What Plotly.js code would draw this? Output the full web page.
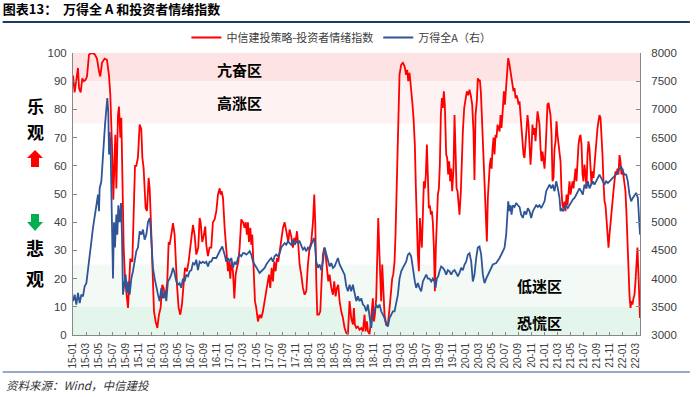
<!DOCTYPE html>
<html>
<head>
<meta charset="utf-8">
<script src="https://cdn.plot.ly/plotly-3.0.1.min.js"></script>
<style>html,body{margin:0;padding:0;background:#fff;}#chart{width:700px;height:397px;}</style>
</head>
<body>
<div id="chart"></div>
<script>
// x positions: months elapsed since 2015-01
const tickLabels = ["15-01","15-03","15-05","15-07","15-09","15-11","16-01","16-03","16-05","16-07","16-09","16-11",
  "17-01","17-03","17-05","17-07","17-09","17-11","18-01","18-03","18-05","18-07","18-09","18-11",
  "19-01","19-03","19-05","19-07","19-09","19-11","20-01","20-03","20-05","20-07","20-09","20-11",
  "21-01","21-03","21-05","21-07","21-09","21-11","22-01","22-03"];

const seriesNames = ["中信建投策略-投资者情绪指数", "万得全A（右）"];

const redMonth = [
0,0.25,0.51,0.76,0.92,1.17,1.42,1.68,1.93,2.14,
2.44,2.80,3.31,3.66,3.97,4.17,4.43,4.83,5.19,5.50,
5.70,5.85,6.00,6.16,6.31,6.46,6.62,6.87,7.02,7.23,
7.38,7.53,7.74,7.94,8.14,8.40,8.55,8.75,9.06,9.26,
9.47,9.67,9.92,10.18,10.43,10.59,10.79,11.09,11.30,11.55,
11.71,11.86,12.06,12.21,12.37,12.62,12.88,13.13,13.38,13.64,
13.84,14.10,14.40,14.61,14.76,15.01,15.27,15.52,15.67,15.88,
16.13,16.39,16.64,16.90,17.10,17.40,17.66,17.91,18.17,18.32,
18.57,18.83,19.13,19.34,19.49,19.74,19.95,20.20,20.36,20.61,
20.86,21.12,21.37,21.63,21.89,22.14,22.40,22.55,22.70,22.91,
23.16,23.41,23.67,23.82,24.03,24.18,24.43,24.64,24.84,25.04,
25.25,25.45,25.70,25.96,26.21,26.37,26.57,26.72,26.87,27.08,
27.23,27.38,27.59,27.79,27.99,28.25,28.50,28.76,29.01,29.27,
29.52,29.78,29.93,30.13,30.34,30.54,30.74,30.95,31.15,31.35,
31.56,31.81,32.07,32.32,32.47,32.68,32.88,33.08,33.34,33.59,
33.80,34.00,34.20,34.41,34.61,34.86,35.12,35.37,35.63,35.88,
36.14,36.39,36.65,36.85,37.00,37.16,37.31,37.56,37.77,37.97,
38.17,38.38,38.58,38.78,38.99,39.19,39.45,39.70,39.90,40.11,
40.31,40.51,40.72,40.97,41.23,41.48,41.74,41.99,42.24,42.49,
42.75,42.90,43.05,43.26,43.51,43.77,44.02,44.28,44.53,44.68,
44.89,45.04,45.29,45.45,45.60,45.80,45.96,46.11,46.31,46.46,
46.62,46.77,46.92,47.07,47.23,47.38,47.58,47.84,48.09,48.35,
48.60,48.75,48.91,49.11,49.26,49.42,49.57,49.72,49.87,50.13,
50.38,50.64,50.89,51.04,51.20,51.40,51.60,51.81,52.01,52.21,
52.37,52.52,52.67,52.83,52.98,53.13,53.28,53.44,53.59,53.74,
53.89,54.05,54.20,54.35,54.50,54.66,54.81,54.96,55.12,55.27,
55.42,55.57,55.73,55.88,56.03,56.18,56.34,56.49,56.64,56.79,
57.00,57.15,57.30,57.46,57.61,57.76,57.91,58.12,58.27,58.42,
58.58,58.73,58.88,59.03,59.24,59.39,59.54,59.75,59.95,60.15,
60.36,60.56,60.76,60.97,61.17,61.32,61.48,61.68,61.83,61.99,
62.14,62.29,62.44,62.60,62.75,62.90,63.05,63.21,63.36,63.51,
63.66,63.82,63.93,64.08,64.23,64.38,64.54,64.69,64.84,64.99,
65.15,65.30,65.45,65.66,65.81,65.96,66.16,66.32,66.47,66.67,
66.83,66.98,67.13,67.28,67.44,67.59,67.74,67.89,68.05,68.20,
68.35,68.51,68.66,68.81,68.96,69.12,69.27,69.42,69.57,69.73,
69.88,70.03,70.18,70.34,70.49,70.64,70.80,70.95,71.10,71.25,
71.41,71.56,71.71,71.86,72.02,72.17,72.32,72.47,72.63,72.78,
72.93,73.09,73.24,73.39,73.54,73.70,73.85,74.00,74.15,74.31,
74.46,74.61,74.76,74.92,75.07,75.22,75.38,75.53,75.68,75.83,
75.99,76.14,76.29,76.44,76.60,76.75,76.90,77.05,77.21,77.36,
77.51,77.67,77.82,77.97,78.12,78.28,78.43,78.58,78.73,78.89,
79.04,79.19,79.34,79.50,79.65,79.80,79.96,80.11,80.26,80.41,
80.57,80.72,80.87,81.02,81.18,81.33,81.48,81.64,81.79,81.94,
82.09,82.25,82.40,82.55,82.70,82.86,83.01,83.16,83.31,83.47,
83.62,83.77,83.93,84.08,84.23,84.38,84.54,84.69,84.84,84.99,
85.15,85.30,85.45,85.60,85.76,85.91,86.06,86.21,86.37,86.48,86.6];

const redValue = [
92,86,90.5,94.7,87.6,86,91,90,90.5,91.7,
99.4,100,99.6,98,93.5,91.7,96.5,98,97.6,92,
85,75.8,64,48,60,71,52,78,81,70,
77,54.5,31,20,15.5,9.6,16.7,27,26,47,
60,60,63,74.6,73,63,59,45,44,55.7,
52,42.7,31,19,8.4,4.8,2.5,7.2,9.6,17.8,
16.7,13,19,33,32,35.6,39.7,35.6,25,17.8,
9.6,7.2,10.8,19,23.8,22.6,26,31,35.6,39,
35.6,28.5,31,41.5,40,33,35,38.5,32,28,
31,31,40,41,43.9,49.8,52,49.8,51,48.6,
38,31,22.6,26,20,26,22.6,13,21.4,23.8,
26,31,41,40,38,40,35.6,40,33,38,
32,35.6,25,12,9.6,4.8,7.2,6,8.4,12,
15.5,19,21.4,16.7,23.8,19,26,22.6,27.3,26,
29.7,34.4,38,40,38,35.6,33,37.4,35,31,
34.4,33,36.8,32,25,21.4,16.7,14.3,15.5,25,
31,33,40,49.8,40,19,7.2,7.2,8.4,19,
28.5,31,28.5,23.8,19,21.4,16.7,14.3,19,13.7,
16.7,17.8,12,8.4,6,2.5,0.7,0.3,12,6,
3.7,9.6,3.7,2.5,3,1.9,2.5,1.3,7.2,1.3,
4.8,1.3,0.3,3.7,9.6,13,4.8,7.2,13,31,
41.5,31,19,12,25,16.7,7.2,3.7,3.7,9.6,
16.7,20,21.4,26,35.6,51,66,83,92.3,95.9,
96.5,95.3,92.3,94,90,93,88.8,82.9,77,67.5,
52,35.6,28.5,22.6,41.5,35.6,31,42.7,54.5,52,
56.9,67.5,58,45,46,42.7,43.9,40,31,15.5,
31,43.9,49.8,52,60.4,78,84,80.5,86.4,81.7,
64,62.8,56.9,61.6,54.5,59,51,59,78,66,
52,51,46,42.7,51,66,72,80.5,84,86.4,
85,87,85,81.7,72,55,78,83,91,90,
90.5,86.4,78,68.7,59,52,42.7,33.2,48.6,56.9,
60.4,62.8,59,66,70,64,71,70,74.6,73.4,
72.2,78,73.4,80.5,86.4,81.7,87.6,92.3,98.2,95.9,
93.5,91,90,86.4,87.6,84,85,84,81.7,82.9,
78,72.2,66,64,62.8,67.5,73.4,78,74.6,68.7,
60.4,66,74.6,71,73.4,68.7,73.4,79.3,77,74.6,
66,61.6,65,60.4,59,65,78,81.7,82.3,80.5,
78,71,54.5,55.7,66,68.7,75.8,71,67.5,66,
61.6,51,46,45,47.3,43.9,49.8,46,52,54.5,
49.8,53.3,54.5,52,56.9,59,54.5,62.8,67.5,70,
71,67.5,56.9,54.5,60.4,56.9,52,63.8,68.7,66,
56.9,53.3,58,55.7,60.4,66,71,73.4,75.8,78,
77,72.2,64,54.5,47.4,46,40,36.8,31,35.6,
40,42.7,47.4,51,54.5,58,56.9,59,56.9,63.8,
61.6,56.9,59,55.7,54.5,51,42.7,35.6,23.8,14.3,
9.6,12,10.8,13,14.3,19,28.5,31,21.4,10,6];

const blueMonth = [
0,0.25,0.51,0.76,1.02,1.27,1.53,1.78,2.04,2.29,
2.54,2.80,3.05,3.31,3.56,3.82,3.97,4.07,4.33,4.58,
4.73,4.89,5.09,5.24,5.39,5.50,5.60,5.75,5.90,6.00,
6.11,6.26,6.41,6.62,6.77,6.92,7.12,7.33,7.48,7.63,
7.84,8.04,8.24,8.45,8.65,8.91,9.16,9.41,9.67,9.92,
10.18,10.43,10.69,10.94,11.20,11.45,11.71,11.86,12.06,12.21,
12.47,12.72,12.98,13.23,13.49,13.74,14.00,14.25,14.50,14.76,
15.01,15.27,15.52,15.78,16.03,16.28,16.54,16.79,17.05,17.30,
17.56,17.81,18.07,18.32,18.57,18.83,19.08,19.34,19.59,19.85,
20.10,20.36,20.61,20.86,21.12,21.37,21.63,21.89,22.40,22.80,
23.16,23.41,23.67,23.92,24.18,24.43,24.69,24.94,25.20,25.45,
25.70,25.96,26.21,26.47,26.72,26.98,27.23,27.49,27.74,27.99,
28.25,28.50,28.76,29.01,29.27,29.52,29.78,30.03,30.28,30.54,
30.79,31.05,31.30,31.56,31.81,32.07,32.32,32.57,32.83,33.08,
33.34,33.59,33.85,34.10,34.36,34.61,34.86,35.12,35.37,35.63,
35.88,36.14,36.39,36.65,36.80,36.95,37.16,37.41,37.66,37.92,
38.17,38.43,38.68,38.94,39.19,39.45,39.70,39.95,40.21,40.46,
40.72,40.97,41.23,41.48,41.74,41.99,42.24,42.49,42.75,43.00,
43.26,43.51,43.77,44.02,44.28,44.53,44.78,45.04,45.29,45.55,
45.80,46.06,46.31,46.57,46.82,47.07,47.33,47.58,47.84,48.09,
48.35,48.60,48.86,49.11,49.37,49.62,49.87,50.13,50.38,50.64,
50.89,51.15,51.40,51.65,51.81,52.01,52.21,52.42,52.67,52.93,
53.18,53.44,53.69,53.95,54.20,54.45,54.71,54.96,55.22,55.37,
55.57,55.78,55.98,56.23,56.49,56.74,57.00,57.25,57.51,57.76,
58.02,58.27,58.52,58.78,59.03,59.29,59.54,59.80,60.05,60.31,
60.56,60.82,61.07,61.32,61.58,61.83,62.09,62.34,62.60,62.85,
63.11,63.36,63.61,63.87,64.12,64.64,65.15,65.66,65.91,66.16,
66.32,66.47,66.67,66.83,66.98,67.18,67.44,67.69,67.95,68.20,
68.45,68.71,68.96,69.22,69.47,69.73,69.98,70.24,70.49,70.74,
71.00,71.25,71.51,71.76,72.02,72.27,72.53,72.78,73.04,73.29,
73.54,73.80,74.05,74.31,74.46,74.61,74.82,75.07,75.32,75.58,
75.83,76.09,76.34,76.60,76.85,77.11,77.36,77.61,77.87,78.12,
78.38,78.63,78.89,79.14,79.40,79.65,79.90,80.16,80.41,80.67,
80.92,81.18,81.43,81.69,81.94,82.20,82.45,82.70,82.96,83.21,
83.47,83.72,83.98,84.23,84.49,84.74,84.99,85.25,85.50,85.76,
86.01,86.27,86.45,86.6];

const blueIndex = [
3600,3715,3540,3745,3565,3715,3685,3865,3920,4190,
4485,4650,4900,5100,5370,5490,5195,5600,5725,6250,
6500,6730,7000,7200,6950,6200,6600,6300,5300,4720,
4000,5000,4550,5135,4780,5300,5000,5340,4780,3715,
3950,4070,3745,3950,3715,4000,4130,4350,4485,4550,
4840,4780,4870,4690,4780,5000,5075,4900,4550,4190,
4000,3835,3715,3600,3835,3650,3775,3600,3950,4000,
4070,4190,4100,3950,3890,3920,3835,4000,3950,4070,
4040,4130,4150,4275,4250,4335,4150,4300,4275,4300,
4275,4300,4215,4300,4300,4365,4365,4365,4485,4570,
4425,4300,4365,4300,4365,4190,4300,4250,4365,4425,
4395,4450,4450,4425,4450,4485,4425,4300,4250,4190,
4150,4100,4130,4150,4190,4250,4300,4335,4365,4300,
4395,4425,4395,4450,4550,4600,4630,4600,4660,4630,
4600,4690,4600,4660,4630,4660,4570,4515,4550,4485,
4550,4515,4600,4690,4720,4600,4300,4190,4250,4150,
4300,4550,4425,4300,4215,4275,4190,4215,4300,4365,
4250,4190,4130,4070,3865,3775,3890,3775,3890,3715,
3600,3685,3600,3650,3540,3510,3420,3540,3360,3125,
3420,3420,3540,3480,3540,3420,3360,3300,3185,3150,
3300,3360,3420,3420,3600,3715,4000,4130,4190,4250,
4300,4425,4450,4395,4250,4070,3950,3835,3920,3835,
3775,3950,4000,4070,4000,4000,3950,4000,3950,3835,
4000,4040,4130,4215,4190,4150,4070,4150,4130,4070,
4130,4150,4100,4040,4100,4190,4150,4250,4300,4425,
4450,4300,3950,4070,4365,4550,4570,4425,4070,3920,
4000,4070,4130,4190,4250,4275,4365,4485,4550,4780,
5135,5370,5195,5300,5135,5300,5270,5340,5300,5270,
5135,5075,5195,5135,5250,5195,5075,5195,5250,5300,
5270,5300,5250,5300,5370,5550,5600,5665,5600,5665,
5550,5725,5600,5430,5195,5250,5195,5250,5300,5250,
5300,5370,5400,5430,5490,5550,5600,5550,5490,5665,
5600,5725,5600,5665,5725,5665,5725,5785,5845,5785,
5725,5665,5725,5695,5725,5750,5785,5815,5845,5900,
5950,5990,5900,5845,5845,5725,5490,5370,5430,5490,
5520,5430,5000,4780];

// sentiment zones on the left scale: [low, high, label]
const zoneLow   = [90, 75, 10, 0];
const zoneHigh  = [100, 90, 25, 10];
const zoneNames = ["亢奋区", "高涨区", "低迷区", "恐慌区"];
const zoneColors = ["#fde3e3", "#fff2f2", "#f3faf6", "#e4f5eb"];

const FONT = '"Liberation Sans", Arial, "Noto Sans CJK SC", sans-serif';
const CJK = '"Noto Sans CJK SC", sans-serif';

const traces = [
  {x: redMonth, y: redValue, name: seriesNames[0], type: 'scatter', mode: 'lines',
   line: {color: '#ff0000', width: 1.8}, yaxis: 'y'},
  {x: blueMonth, y: blueIndex, name: seriesNames[1], type: 'scatter', mode: 'lines',
   line: {color: '#2f5597', width: 1.8}, yaxis: 'y2'}
];

const shapes = zoneLow.map((lo, i) => ({
  type: 'rect', xref: 'paper', yref: 'y', x0: 0, x1: 1, y0: lo, y1: zoneHigh[i],
  fillcolor: zoneColors[i], line: {width: 0}, layer: 'below'
}));
// header rule and footer rule
shapes.push({type: 'line', xref: 'paper', yref: 'paper', x0: -0.124, x1: 1.088, y0: 1.11, y1: 1.11,
  line: {color: '#1f3a68', width: 2}});
shapes.push({type: 'line', xref: 'paper', yref: 'paper', x0: -0.124, x1: 1.088, y0: -0.1312, y1: -0.1312,
  line: {color: '#2e5597', width: 1.2}});
// up (red) and down (green) arrows
shapes.push({type: 'path', xref: 'paper', yref: 'paper',
  path: 'M -0.0670 0.6560 L -0.0529 0.6277 L -0.0600 0.6277 L -0.0600 0.5957 L -0.0741 0.5957 L -0.0741 0.6277 L -0.0811 0.6277 Z',
  fillcolor: '#ff0000', line: {width: 0}});
shapes.push({type: 'path', xref: 'paper', yref: 'paper',
  path: 'M -0.0741 0.4291 L -0.0600 0.4291 L -0.0600 0.4007 L -0.0529 0.4007 L -0.0670 0.3688 L -0.0811 0.4007 L -0.0741 0.4007 Z',
  fillcolor: '#00b050', line: {width: 0}});

const zoneLabelY = [94.3, 82.3, 17.4, 4.3];
const zoneLabelX = [0.2945, 0.2945, 0.8236, 0.8236];
const annotations = zoneNames.map((t, i) => ({
  text: '<b>' + t + '</b>', xref: 'paper', yref: 'y', x: zoneLabelX[i], y: zoneLabelY[i],
  showarrow: false, font: {family: CJK, size: 15, color: '#000'}, xanchor: 'center', yanchor: 'middle'
}));
// side words: "乐观" above the red arrow, "悲观" below the green arrow
const sideChars = [["乐", 0.8138, 17], ["观", 0.7216, 17], ["悲", 0.3085, 18], ["观", 0.2021, 18]];
sideChars.forEach(([c, y, s]) => annotations.push({
  text: '<b>' + c + '</b>', xref: 'paper', yref: 'paper', x: -0.067, y: y, showarrow: false,
  font: {family: CJK, size: s, color: '#000'}, xanchor: 'center', yanchor: 'middle'
}));
annotations.push({
  text: '<i>资料来源：Wind，中信建投</i>', xref: 'paper', yref: 'paper', x: -0.121, y: -0.177,
  xanchor: 'left', yanchor: 'middle', showarrow: false, font: {family: CJK, size: 11.5, color: '#333'}
});

const tickVals = tickLabels.map((_, i) => i * 2);

const layout = {
  width: 700, height: 397,
  margin: {l: 73, r: 60, t: 53, b: 62, pad: 0},
  paper_bgcolor: '#ffffff', plot_bgcolor: '#ffffff',
  font: {family: FONT, color: '#404040', size: 11},
  title: {text: '<b>图表13：  万得全 A 和投资者情绪指数</b>', xref: 'container', yref: 'container',
    x: 0.004, xanchor: 'left', y: 0.975, yanchor: 'middle', font: {family: CJK, size: 13, color: '#000'}},
  showlegend: true,
  legend: {orientation: 'h', x: 0.2, xanchor: 'left', y: 1.055, yanchor: 'middle',
    font: {family: CJK, size: 11, color: '#404040'}, bgcolor: 'rgba(0,0,0,0)', itemwidth: 30,
    traceorder: 'normal'},
  xaxis: {range: [0, 86.6], tickmode: 'array', tickvals: tickVals, ticktext: tickLabels,
    tickangle: -90, ticks: 'inside', ticklen: 3, tickcolor: '#888', showline: true, linecolor: '#888',
    linewidth: 1, showgrid: false, zeroline: false, tickfont: {family: FONT, size: 10, color: '#404040'},
    ticklabelstandoff: 3},
  yaxis: {range: [0, 100], dtick: 10, tick0: 0, ticks: 'inside', ticklen: 4, tickcolor: '#888',
    showline: true, linecolor: '#888', linewidth: 1, showgrid: false, zeroline: false,
    tickfont: {family: FONT, size: 11.5, color: '#404040'}, ticklabelstandoff: 3},
  yaxis2: {range: [3000, 8000], dtick: 500, tick0: 3000, overlaying: 'y', side: 'right', ticks: 'inside',
    ticklen: 4, tickcolor: '#888', showline: true, linecolor: '#888', linewidth: 1, showgrid: false,
    zeroline: false, tickfont: {family: FONT, size: 11.5, color: '#404040'}, ticklabelstandoff: 8},
  shapes: shapes,
  annotations: annotations
};

Plotly.newPlot('chart', traces, layout, {displayModeBar: false, staticPlot: true});
</script>
</body>
</html>
